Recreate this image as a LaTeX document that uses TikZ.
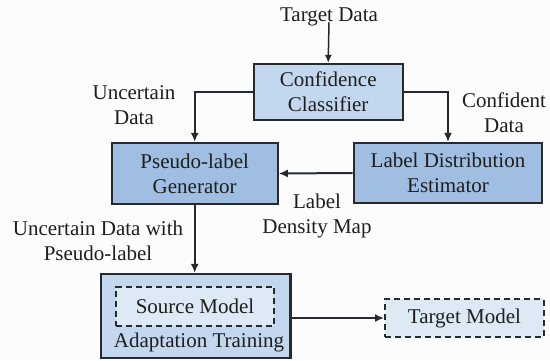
\documentclass[tikz,border=0pt]{standalone}
\usepackage{fontspec}
\setmainfont{Liberation Serif}
\usetikzlibrary{arrows.meta}
\definecolor{bgc}{HTML}{FCFCFD}
\definecolor{lightblue}{HTML}{C3D7EE}
\definecolor{midblue}{HTML}{9FBEE1}
\definecolor{paleblue}{HTML}{DDE9F5}
\definecolor{edgec}{HTML}{262A2E}
\definecolor{txtc}{HTML}{1E1E1E}
\tikzset{
  every node/.style={font=\fontsize{21}{25}\selectfont, text=txtc, inner sep=0pt},
  box/.style={draw=edgec, line width=2.2pt, rectangle},
  dbox/.style={draw=edgec, line width=2pt, dash pattern=on 6pt off 4pt, rectangle},
  lbl/.style={align=center},
  thick arrow/.style={draw=edgec, line width=2pt, -{Latex[length=9pt,width=8pt]}},
  thin arrow/.style={draw=edgec, line width=1.5pt, -{Latex[length=8pt,width=7pt]}},
}
\begin{document}
\begin{tikzpicture}[x=1pt,y=-1pt]
\fill[bgc] (0,0) rectangle (550,360);
\useasboundingbox (0,0) rectangle (550,360);

\node (td) at (329,17) {Target Data};
\node[box, fill=lightblue, minimum width=149pt, minimum height=56pt, lbl] (cc) at (328.2,92) {Confidence\\Classifier};
\node[box, fill=midblue, minimum width=166pt, minimum height=61pt, lbl] (pg) at (194.7,173.5) {Pseudo-label\\Generator};
\node[box, fill=midblue, minimum width=188.7pt, minimum height=60pt, lbl] (lde) at (448,173) {Label Distribution\\Estimator};
\node[box, fill=lightblue, minimum width=189.4pt, minimum height=84pt] (at) at (195.7,316) {};
\node[dbox, fill=paleblue, minimum width=158.6pt, minimum height=38.7pt] (sm) at (195,306.3) {Source Model};
\node (atl) at (199,342) {Adaptation Training};
\node[dbox, fill=paleblue, minimum width=158.7pt, minimum height=38pt] (tm) at (464.4,318) {Target Model};

\node[lbl] (ud) at (134,105.5) {Uncertain\\Data};
\node[lbl] (cd) at (504,112.5) {Confident\\Data};
\node[lbl] (ldm) at (317,215.5) {Label\\Density Map};
\node[lbl] (udp) at (98,240.5) {Uncertain Data with\\Pseudo-label};

\coordinate (tds) at ([yshift=4pt]td.south);
\draw[thin arrow] (tds) -- (cc.north);
\draw[thick arrow] (cc.west) -| (pg.north);
\draw[thick arrow] (cc.east) -| (lde.north);
\draw[thick arrow] (lde.west) -- (pg.east);
\draw[thick arrow] (pg.south) -- (pg.south |- at.north);
\draw[thick arrow] (tm.west -| at.east) -- (tm.west);
\end{tikzpicture}
\end{document}
